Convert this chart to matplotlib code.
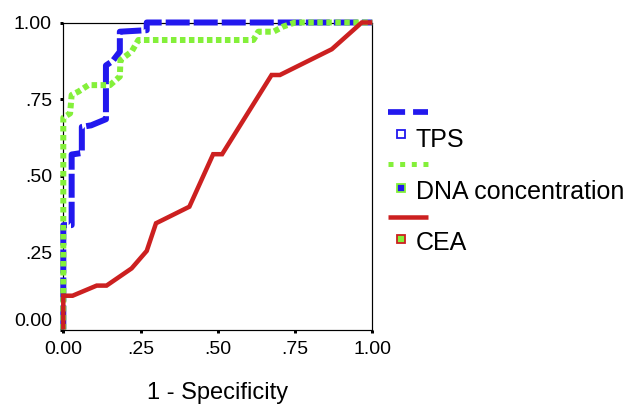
import matplotlib
matplotlib.use("Agg")
import matplotlib.pyplot as plt
from matplotlib.lines import Line2D
from matplotlib.transforms import ScaledTranslation

# ---- data (1 - specificity, sensitivity) ----
tps_fpr = [0.0, 0.0, 0.027, 0.027, 0.06, 0.06, 0.09, 0.138, 0.138, 0.16, 0.183, 0.183, 0.27, 0.27, 1.0]
tps_tpr = [0.0, 0.34, 0.34, 0.57, 0.575, 0.66, 0.665, 0.685, 0.86, 0.875, 0.905, 0.97, 0.975, 1.0, 1.0]

dna_fpr = [0.0, 0.0, 0.022, 0.027, 0.049, 0.081, 0.151, 0.183, 0.185, 0.221, 0.243, 0.615, 0.631, 0.68, 0.712, 0.75, 1.0]
dna_tpr = [0.0, 0.69, 0.704, 0.764, 0.775, 0.796, 0.796, 0.824, 0.878, 0.905, 0.943, 0.943, 0.97, 0.97, 0.987, 1.0, 1.0]

cea_fpr = [0.0, 0.0, 0.03, 0.108, 0.14, 0.221, 0.27, 0.30, 0.408, 0.485, 0.514, 0.674, 0.701, 0.869, 0.966, 1.0]
cea_tpr = [0.0, 0.11, 0.11, 0.143, 0.143, 0.199, 0.256, 0.346, 0.40, 0.571, 0.571, 0.829, 0.829, 0.913, 1.0, 1.0]

tick_vals = [0.0, 0.25, 0.5, 0.75, 1.0]
tick_labels = ["0.00", ".25", ".50", ".75", "1.00"]
legend_names = ["TPS", "DNA concentration", "CEA"]
x_title = "1 - Specificity"

BLUE = "#2218EE"
GREEN = "#84F03A"
RED = "#CC2020"

plt.rcParams["font.family"] = ["Liberation Sans", "DejaVu Sans"]

W, H = 629, 405
fig = plt.figure(figsize=(W / 100, H / 100), dpi=100)
ax = fig.add_axes([63.3 / W, (H - 329.5) / H, 309 / W, 307 / H])

px = 72 / 100  # points per pixel

ax.plot(tps_fpr, tps_tpr, color=BLUE, lw=6 * px, dashes=(4, 0.67),
        solid_capstyle="butt", dash_capstyle="butt", clip_on=False, zorder=3)
ax.plot(dna_fpr, dna_tpr, color=GREEN, lw=6 * px, dashes=(0.92, 0.58),
        dash_capstyle="butt", clip_on=False, zorder=4)
ax.plot(cea_fpr, cea_tpr, color=RED, lw=4.5 * px,
        solid_capstyle="butt", solid_joinstyle="miter", clip_on=False, zorder=5)

ax.set_xlim(0, 1)
ax.set_ylim(0, 1)
ax.set_xticks(tick_vals)
ax.set_xticklabels(tick_labels)
ax.set_yticks(tick_vals)
ax.set_yticklabels(tick_labels)
ax.tick_params(axis="both", direction="out", length=3 * px, width=3 * px,
               pad=6, labelsize=14, colors="black")
for s in ax.spines.values():
    s.set_linewidth(1.2 * px)
    s.set_color("black")
    s.set_zorder(2)

ax.set_xlabel(x_title, fontsize=17, va="baseline")
ax.xaxis.set_label_coords(0.5, (329.5 - 399.3) / 307)

# shift the 0.00 y tick label upward like the reference
lab0 = ax.yaxis.get_major_ticks()[0].label1
lab0.set_transform(lab0.get_transform() + ScaledTranslation(0, 9.5 / 100, fig.dpi_scale_trans))

# ---- legend drawn manually ----
def fy(ypx):
    return 1 - ypx / H

x0, x1 = 388.3 / W, 428.3 / W
mx = 401 / W
tx = 415.7 / W
line_specs = [
    dict(color=BLUE, lw=5.7 * px, dashes=(3, 1.4)),
    dict(color=GREEN, lw=5 * px, dashes=(1, 1.33)),
    dict(color=RED, lw=4.5 * px),
]
line_y = [112.3, 164, 217.3]
marker_y = [134.3, 187.7, 239.3]
text_base = [146.7, 199.3, 250]
marker_face = ["white", BLUE, GREEN]
marker_edge = [BLUE, GREEN, RED]
for i, name in enumerate(legend_names):
    fig.add_artist(Line2D([x0, x1], [fy(line_y[i]), fy(line_y[i])],
                          transform=fig.transFigure, solid_capstyle="butt",
                          dash_capstyle="butt", **line_specs[i]))
    fig.add_artist(Line2D([mx], [fy(marker_y[i])], transform=fig.transFigure,
                          marker="s", markersize=5.5, markerfacecolor=marker_face[i],
                          markeredgecolor=marker_edge[i], markeredgewidth=1.3, linestyle="none"))
    fig.text(tx, fy(text_base[i]), name, fontsize=18, va="baseline", ha="left")

fig.savefig("out.png", dpi=100)
